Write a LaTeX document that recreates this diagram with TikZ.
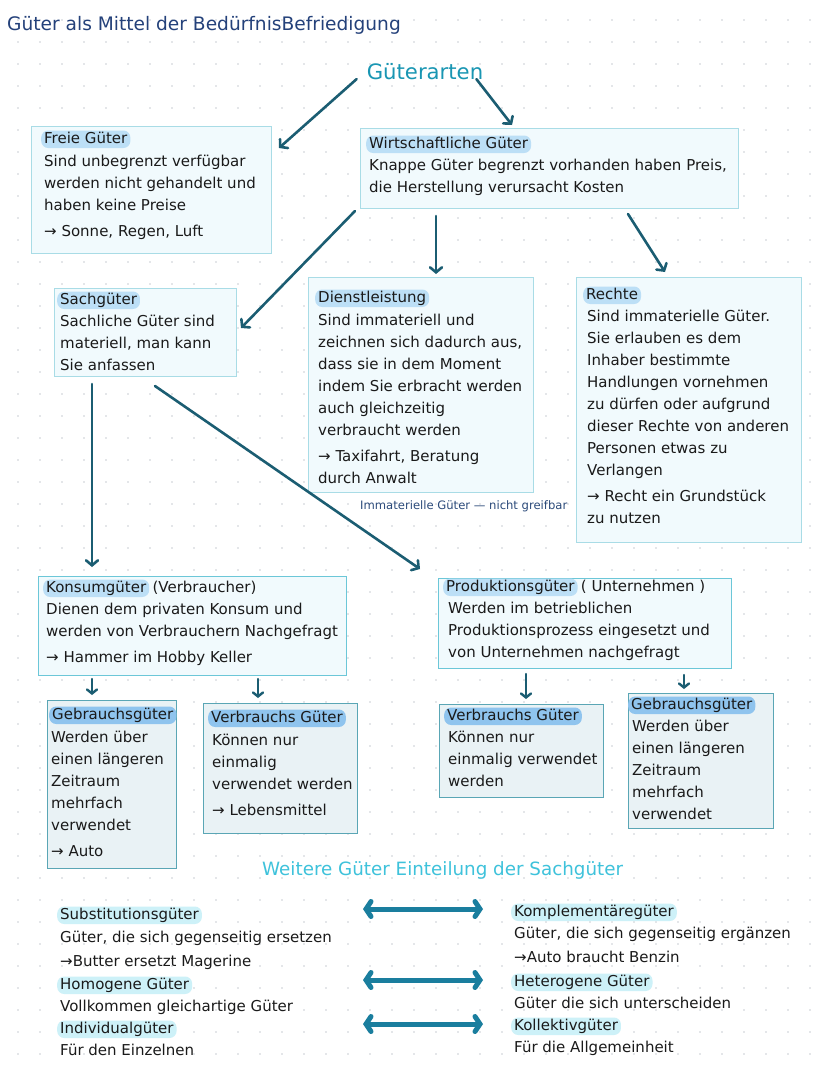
\documentclass[tikz,border=0pt]{standalone}
\usepackage{fontspec}
\setmainfont{DejaVu Sans}
\usetikzlibrary{arrows.meta,calc}
\definecolor{ink}{HTML}{1A1A1A}
\definecolor{titleblue}{HTML}{24417A}
\definecolor{cyanhead}{HTML}{1996B3}
\definecolor{cyanhead2}{HTML}{3EC2DB}
\definecolor{arrowc}{HTML}{1B5D72}
\definecolor{darrc}{HTML}{1A7E9E}
\definecolor{boxfill}{HTML}{F1FAFD}
\definecolor{boxline}{HTML}{A9DCE6}
\definecolor{boxlinek}{HTML}{6CC7D8}
\definecolor{gfill}{HTML}{E9F2F5}
\definecolor{gline}{HTML}{5AA6B5}
\definecolor{pillA}{HTML}{BCDFF6}
\definecolor{pillB}{HTML}{8FC4EE}
\definecolor{pillC}{HTML}{CDF1F8}
\definecolor{dotc}{HTML}{C9CED3}
\definecolor{labelc}{HTML}{2B4A7A}
\newcommand{\bodyfont}{\fontsize{15}{22}\selectfont}
\newcommand{\pfeil}{→}
\newcommand{\ts}{\rule{0pt}{15.4pt}}
\tikzset{
  box/.style={draw=boxline, fill=boxfill, line width=1pt, inner sep=0pt, anchor=north west},
  boxk/.style={box, draw=boxlinek},
  boxg/.style={draw=gline, fill=gfill, line width=0.9pt, inner sep=0pt, anchor=north west},
  pill/.style={fill=pillA, rounded corners=7pt, inner xsep=3pt, inner ysep=1.5pt, text height=11pt, text depth=3.5pt, anchor=base west, font=\bodyfont, text=ink},
  pillg/.style={pill, fill=pillB},
  pillc/.style={pill, fill=pillC},
  body/.style={anchor=north west, yshift=15.4pt, align=left, inner sep=0pt, font=\bodyfont, text=ink},
  inl/.style={anchor=base west, inner sep=0pt, font=\bodyfont, text=ink},
  arr/.style={draw=arrowc, line width=2.6pt, line cap=round, -{Straight Barb[length=5pt,width=12pt,line cap=round]}},
  sarr/.style={draw=arrowc, line width=2.4pt, line cap=round, -{Straight Barb[length=4pt,width=10pt,line cap=round]}},
  darr/.style={draw=darrc, line width=5pt, line cap=round, {Straight Barb[length=5pt,width=15pt,line cap=round]}-{Straight Barb[length=5pt,width=15pt,line cap=round]}},
}
\begin{document}
\begin{tikzpicture}[x=1pt,y=-1pt]
\useasboundingbox[fill=white] (0,0) rectangle (828,1071);
% dot grid
\foreach \i in {0,...,37} {\foreach \j in {0,...,48} {\fill[dotc] (18+22*\i,20+22*\j) circle (0.8pt);}}

% headings
\node[anchor=base west, inner sep=0pt, text=titleblue, font=\fontsize{18.6}{20}\selectfont] (title) at (7,30) {Güter als Mittel der BedürfnisBefriedigung};
\node[anchor=base, inner sep=0pt, text=cyanhead, font=\fontsize{21.2}{24}\selectfont] (gart) at (425,79) {Güterarten};

% Freie Güter
\node[box, minimum width=240pt, minimum height=127pt] (freie) at (31,126) {};
\node[pill] (freieT) at (41,143) {Freie Güter};
\node[body] (freieB) at (44,166) {\ts Sind unbegrenzt verfügbar\\werden nicht gehandelt und\\haben keine Preise\\[4pt]\pfeil{} Sonne, Regen, Luft};

% Wirtschaftliche Güter
\node[box, minimum width=378pt, minimum height=80pt] (wirt) at (360,128) {};
\node[pill] (wirtT) at (366,148) {Wirtschaftliche Güter};
\node[body] (wirtB) at (369,170) {\ts Knappe Güter begrenzt vorhanden haben Preis,\\die Herstellung verursacht Kosten};

% Sachgüter
\node[box, minimum width=182pt, minimum height=88pt] (sach) at (54,288) {};
\node[pill] (sachT) at (57,304) {Sachgüter};
\node[body] (sachB) at (60,326) {\ts Sachliche Güter sind\\materiell, man kann\\Sie anfassen};

% Dienstleistung
\node[box, minimum width=225pt, minimum height=215pt] (dienst) at (308,277) {};
\node[pill] (dienstT) at (315,302) {Dienstleistung};
\node[body] (dienstB) at (318,325) {\ts Sind immateriell und\\zeichnen sich dadurch aus,\\dass sie in dem Moment\\indem Sie erbracht werden\\auch gleichzeitig\\verbraucht werden\\[4pt]\pfeil{} Taxifahrt, Beratung\\durch Anwalt};
\node[anchor=base west, inner sep=0pt, text=labelc, font=\fontsize{11.6}{12}\selectfont] (immat) at (360,509) {Immaterielle Güter — nicht greifbar};

% Rechte
\node[box, minimum width=225pt, minimum height=265pt] (rechte) at (576,277) {};
\node[pill] (rechteT) at (583,299) {Rechte};
\node[body] (rechteB) at (587,321) {\ts Sind immaterielle Güter.\\Sie erlauben es dem\\Inhaber bestimmte\\Handlungen vornehmen\\zu dürfen oder aufgrund\\dieser Rechte von anderen\\Personen etwas zu\\Verlangen\\[4pt]\pfeil{} Recht ein Grundstück\\zu nutzen};

% Konsumgüter
\node[boxk, minimum width=308pt, minimum height=99pt] (konsum) at (38,576) {};
\node[pill] (konsumT) at (43,592) {Konsumgüter};
\node[inl] (konsumX) at ($(konsumT.base east)+(3,0)$) {(Verbraucher)};
\node[body] (konsumB) at (46,614) {\ts Dienen dem privaten Konsum und\\werden von Verbrauchern Nachgefragt\\[4pt]\pfeil{} Hammer im Hobby Keller};

% Produktionsgüter
\node[boxk, minimum width=293pt, minimum height=90pt] (prod) at (438,578) {};
\node[pill] (prodT) at (443,591) {Produktionsgüter};
\node[inl] (prodX) at ($(prodT.base east)+(3,0)$) {( Unternehmen )};
\node[body] (prodB) at (448,613) {\ts Werden im betrieblichen\\Produktionsprozess eingesetzt und\\von Unternehmen nachgefragt};

% lower boxes
\node[boxg, minimum width=129pt, minimum height=168pt] (gebrL) at (47,700) {};
\node[pillg] (gebrLT) at (49,719) {Gebrauchsgüter};
\node[body] (gebrLB) at (51,742) {\ts Werden über\\einen längeren\\Zeitraum\\mehrfach\\verwendet\\[4pt]\pfeil{} Auto};

\node[boxg, minimum width=154pt, minimum height=130pt] (verbrL) at (203,703) {};
\node[pillg] (verbrLT) at (208,722) {Verbrauchs Güter};
\node[body] (verbrLB) at (212,745) {\ts Können nur\\einmalig\\verwendet werden\\[4pt]\pfeil{} Lebensmittel};

\node[boxg, minimum width=164pt, minimum height=93pt] (verbrR) at (439,704) {};
\node[pillg] (verbrRT) at (444,720) {Verbrauchs Güter};
\node[body] (verbrRB) at (448,742) {\ts Können nur\\einmalig verwendet\\werden};

\node[boxg, minimum width=145pt, minimum height=135pt] (gebrR) at (628,693) {};
\node[pillg] (gebrRT) at (628,709) {Gebrauchsgüter};
\node[body] (gebrRB) at (632,731) {\ts Werden über\\einen längeren\\Zeitraum\\mehrfach\\verwendet};

% tree arrows
\draw[arr] ($(gart.west)+(-10,8)$) -- ($(freie.north east)+(7,22)$);
\draw[arr] ($(gart.east)+(-7,8)$) -- ($(wirt.north west)+(152,-3)$);
\draw[arr] ($(wirt.south west)+(-5,2)$) -- ($(sach.north east)+(4,40)$);
\draw[arr] ($(wirt.south west)+(76,7)$) -- ($(dienst.north west)+(128,-3)$);
\draw[arr] ($(wirt.south west)+(268,5)$) -- ($(rechte.north west)+(89,-5)$);
\draw[arr] ($(sach.south west)+(38,7)$) -- ($(konsum.north west)+(54,-9)$);
\draw[arr] ($(sach.south west)+(101,9)$) -- ($(prod.north west)+(-18,-9)$);
\draw[sarr] ($(konsum.south west)+(54,3)$) -- ($(gebrL.north west)+(45,-5)$);
\draw[sarr] ($(konsum.south west)+(220,3)$) -- ($(verbrL.north west)+(55,-5)$);
\draw[sarr] ($(prod.south west)+(88,5)$) -- ($(verbrR.north west)+(87,-5)$);
\draw[sarr] ($(prod.south west)+(246,6)$) -- ($(gebrR.north west)+(56,-4)$);

% further classification
\node[anchor=base west, inner sep=0pt, text=cyanhead2, font=\fontsize{18.3}{20}\selectfont] (weitere) at (262,875) {Weitere Güter Einteilung der Sachgüter};

\node[pillc] (subT) at (57,919) {Substitutionsgüter};
\node[body] (subB) at (60,942) {\ts Güter, die sich gegenseitig ersetzen\\[2pt]\pfeil Butter ersetzt Magerine};
\node[pillc] (homT) at (57,989) {Homogene Güter};
\node[body] (homB) at (60,1011) {\ts Vollkommen gleichartige Güter};
\node[pillc] (indT) at (57,1033) {Individualgüter};
\node[body] (indB) at (60,1055) {\ts Für den Einzelnen};

\node[pillc] (komT) at (511,916) {Komplementäregüter};
\node[body] (komB) at (514,938) {\ts Güter, die sich gegenseitig ergänzen\\[2pt]\pfeil Auto braucht Benzin};
\node[pillc] (hetT) at (511,986) {Heterogene Güter};
\node[body] (hetB) at (514,1008) {\ts Güter die sich unterscheiden};
\node[pillc] (kolT) at (511,1030) {Kollektivgüter};
\node[body] (kolB) at (514,1052) {\ts Für die Allgemeinheit};

\coordinate (d1l) at (363,909); \coordinate (d1r) at (483,909);
\coordinate (d2l) at (363,980); \coordinate (d2r) at (483,980);
\coordinate (d3l) at (363,1024); \coordinate (d3r) at (483,1024);
\draw[darr] (d1l) -- (d1r);
\draw[darr] (d2l) -- (d2r);
\draw[darr] (d3l) -- (d3r);
\end{tikzpicture}
\end{document}
